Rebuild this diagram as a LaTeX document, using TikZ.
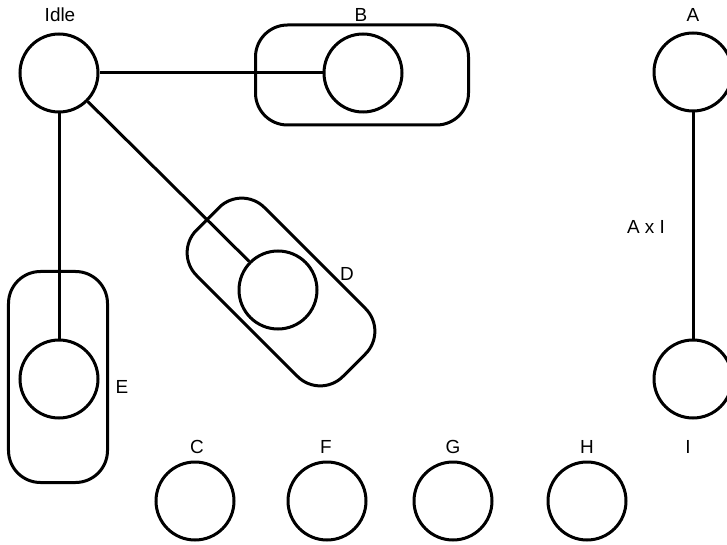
\documentclass[tikz,border=0pt]{standalone}
\usepackage{fontspec}
\setmainfont{Liberation Sans}
\begin{document}
\begin{tikzpicture}[x=1bp,y=-1bp,
  st/.style={circle,draw,line width=3bp,minimum size=78bp,inner sep=0pt},
  grp/.style={rectangle,draw,line width=3bp,rounded corners=32bp,minimum width=213bp,minimum height=100bp,inner sep=0pt},
  conn/.style={line width=3bp},
  lbl/.style={font=\fontsize{19}{22}\selectfont,inner sep=0pt}]
\useasboundingbox (0,0) rectangle (727,545);
% group boxes
\node[grp] (bbox) at (362,75) {};
\node[grp,rotate=-45,minimum width=207bp,minimum height=96bp] (dbox) at (281,292) {};
\node[grp,minimum width=99bp,minimum height=211bp] (ebox) at (58,377) {};
% states
\node[st] (idle) at (59,73) {};
\node[st] (b) at (363,73) {};
\node[st] (a) at (693,72) {};
\node[st] (i) at (693,379) {};
\node[st] (d) at (278,290) {};
\node[st] (e) at (59,379) {};
\node[st] (c) at (195,501) {};
\node[st] (f) at (327,501) {};
\node[st] (g) at (453,501) {};
\node[st] (h) at (587,501) {};
% connectors
\draw[conn] (idle) -- (b);
\draw[conn] (idle) -- (d);
\draw[conn] (idle) -- (e);
\draw[conn] (a) -- (i);
% labels
\node[lbl] (lidle) at (60,15) {Idle};
\node[lbl] (lb) at (361,15) {B};
\node[lbl] (la) at (693,15) {A};
\node[lbl] (lai) at (646,227) {A x I};
\node[lbl] (ld) at (347,274) {D};
\node[lbl] (le) at (122,387) {E};
\node[lbl] (lc) at (197,447) {C};
\node[lbl] (lf) at (326,447) {F};
\node[lbl] (lg) at (453,447) {G};
\node[lbl] (lh) at (587,447) {H};
\node[lbl] (li) at (688,447) {I};
\end{tikzpicture}
\end{document}
